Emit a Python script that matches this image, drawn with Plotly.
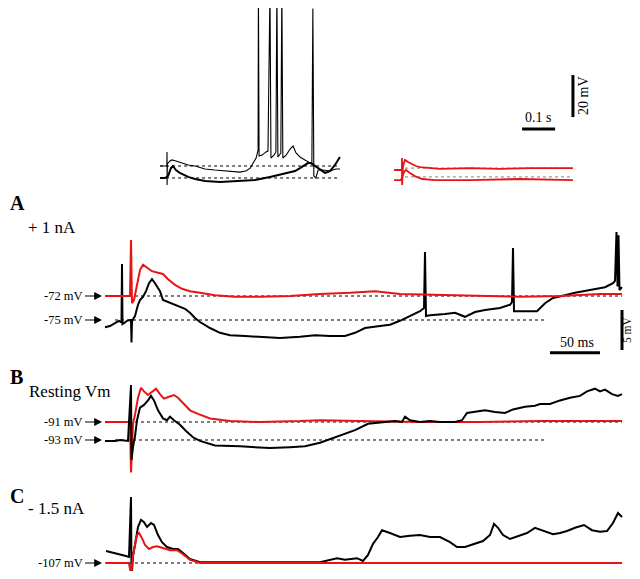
import plotly.graph_objects as go

# The page body has an 8 px default margin, so the figure is placed 8 px
# right/down in the 640x579 window; layout positions below are given in window
# pixels and converted. The figure is sized so the page does not overflow.
OFF = 8
W, H = 640 - 2 * OFF, 579 - 2 * OFF
RED = "rgb(232,20,20)"
FONT = "Liberation Serif"

# ---------------- data (time in ms, membrane potential in mV) ----------------
# Top inset, black traces (stimulus at t = 0)
ins_blk_up_t = [-21, -6, -0.5, 0, 0.3, 1, 9, 15, 27, 39, 64, 85, 115, 145, 191, 221, 239, 252, 261, 270, 276, 277,
                279, 288, 300, 306, 312, 315, 324, 330, 333, 336, 345, 348, 351, 361, 373, 382, 391, 403, 418, 433,
                439, 442, 445, 451, 458, 473, 494, 512, 524]
ins_blk_up_v = [-72, -72, -72, -65.3, -81, -71, -69.6, -69.1, -69.6, -70.1, -71.5, -72, -73.4, -73.9, -74.4, -74.9,
                -74.4, -73, -70.6, -68.2, -64.4, 12, -67.2, -66.8, -65.3, -64.9, 12, -68.2, -66.8, -65.3, 12, -67.7,
                -65.8, 12, -68.2, -66.8, -63.9, -62.5, -65.8, -67.7, -69.1, -70.6, -71, 3, -76.8, -77.7, -73.9,
                -73.9, -74.4, -73.4, -73.4]
ins_blk_lo_t = [-21, -6, 3, 12, 18, 27, 39, 64, 85, 115, 161, 221, 267, 312, 352, 388, 403, 418, 427, 436, 448, 464,
                479, 494, 509, 524]
ins_blk_lo_v = [-77.7, -77.7, -76.8, -73, -72, -73.9, -75.3, -77.2, -78.2, -79.1, -79.6, -79.1, -78.7, -77.2, -75.8,
                -74.4, -73, -71.5, -70.6, -70.6, -72, -73.9, -75.3, -74.4, -71.5, -67.7]
ins_base_t = [-21, 524]
ins_base_v = [-72, -77.7]

# Top inset, red traces
ins_red_up_t = [-24, -3, -0.5, 0, 0.3, 3, 9, 18, 30, 42, 55, 79, 115, 206, 297, 388, 518]
ins_red_up_v = [-73.9, -73.9, -73.9, -68.2, -81, -72, -69.1, -70.1, -71, -72, -72.5, -73, -73.4, -73, -73.4, -73, -73]
ins_red_lo_t = [-24, -3, 6, 12, 24, 39, 61, 100, 206, 358, 518]
ins_red_lo_v = [-78.7, -78.7, -74.9, -73.9, -75.3, -76.8, -78.2, -78.7, -78.7, -78.2, -78.7]
ins_red_base_t = [9, 518]
ins_red_base_v = [-73, -77.2]

# Panel A (+1 nA)
a_blk_t = [-26, -21, -16, -12, -10, -9.5, -9, -8.5, -7, -4, -1, 0, 0.5, 1, 2, 4, 7, 9, 12, 15, 18, 21, 24, 29, 32, 37,
           44, 49, 54, 59, 64, 69, 79, 89, 99, 114, 129, 149, 169, 184, 199, 214, 224, 234, 249, 259, 269, 279, 289,
           293, 294, 295, 299, 314, 324, 334, 344, 354, 369, 379, 381, 382, 383, 394, 406, 414, 422, 434, 444, 459,
           474, 482, 484, 485.5, 486.5, 487.5, 488.5, 491]
a_blk_v = [-75.9, -75.75, -75.4, -75.1, -75.25, -75.2, -68, -75.5, -75.4, -75.1, -75, -75, -77.8, -75.2, -74.9,
           -74.5, -73.1, -72.5, -72.1, -71.4, -70.4, -69.9, -70.4, -71.4, -72.5, -72.75, -73, -73.25, -73.6, -74.1,
           -74.75, -75.25, -76, -76.6, -76.9, -77, -77.1, -77.25, -77.1, -76.9, -77, -77, -76.6, -76, -75.75,
           -75.6, -75.1, -74.5, -73.9, -73.5, -66.5, -74.5, -74.4, -74.25, -74.1, -74.6, -74, -73.75, -73.5, -73.1,
           -72.75, -66, -73.9, -73.9, -73.9, -72.9, -72.25, -71.9, -71.6, -71.25, -70.9, -70.4, -70.1, -64, -70.8,
           -64.4, -71.25, -70.9]
a_red_t = [-26, -1, 0, 1, 3, 5, 7, 9, 12, 16, 21, 27, 32, 37, 44, 51, 59, 69, 84, 104, 129, 159, 189, 219, 244, 269,
           319, 369, 389, 429, 469, 491]
a_red_v = [-72, -72, -65, -72.9, -72.5, -71.25, -69.75, -68.75, -68.1, -68.5, -68.9, -69.1, -69.25, -69.9, -70.6,
           -71.1, -71.4, -71.6, -71.9, -72.1, -72.1, -72, -71.75, -71.6, -71.4, -71.75, -71.9, -72.1, -72.1, -72,
           -71.75, -71.75]
a_base_hi_t, a_base_hi_v = [-26, 491], [-72, -72]
a_base_lo_t, a_base_lo_v = [-16, 416], [-75, -75]

# Panel B (resting Vm)
b_blk_t = [-26, -16, -11, -3, 0, 0.5, 2, 4, 6, 9, 13, 17, 20, 23, 27, 32, 36, 39, 43, 49, 55, 62, 69, 84, 109, 139,
           159, 174, 189, 199, 214, 224, 237, 249, 264, 271, 274, 279, 289, 299, 309, 324, 331, 336, 344, 354, 364,
           374, 382, 394, 404, 409, 419, 429, 439, 449, 456, 464, 469, 474, 481, 487, 491]
b_blk_v = [-93.1, -93.1, -93, -93.1, -86.9, -95.2, -93.8, -92.6, -90.8, -89.4, -89.1, -88.6, -88.1, -88.6, -89.7,
           -90.6, -90.8, -90.4, -90.8, -91.3, -92, -92.7, -93.1, -93.6, -93.7, -93.9, -93.8, -93.7, -93.3, -92.9,
           -92.3, -91.9, -91.2, -91.1, -90.9, -91, -90.4, -90.8, -91, -90.9, -91, -91, -90.8, -90, -89.9, -89.7,
           -89.9, -90, -89.6, -89.3, -89.2, -89, -89, -88.6, -88.3, -88.1, -87.6, -87.3, -87.6, -87.4, -87.9,
           -88.1, -87.9]
b_red_t = [-26, -1, 0, 2, 4, 7, 10, 13, 17, 21, 25, 29, 33, 38, 43, 47, 52, 59, 67, 79, 99, 129, 169, 189, 229, 289,
           349, 409, 469, 491]
b_red_v = [-91, -91, -96.6, -91.2, -90.2, -88.3, -87.2, -87.6, -88, -87.6, -87.3, -87.9, -88.4, -88.2, -88, -88.3,
           -88.9, -89.7, -90.1, -90.6, -90.9, -91, -90.9, -90.8, -90.9, -91, -91, -90.9, -90.9, -90.9]
b_base_hi_t, b_base_hi_v = [-26, 491], [-91, -91]
b_base_lo_t, b_base_lo_v = [-16, 414], [-93, -93]

# Panel C (-1.5 nA)
c_blk_t = [-25, -16, -6, -2, 0, 0.5, 2, 4, 7, 10, 13, 16, 20, 23, 27, 31, 36, 42, 47, 52, 59, 69, 99, 149, 189, 206,
           214, 226, 232, 237, 242, 247, 251, 259, 269, 279, 289, 299, 309, 319, 326, 334, 344, 352, 359, 363, 367,
           372, 379, 387, 396, 404, 412, 422, 429, 436, 444, 453, 461, 469, 476, 482, 487, 491]
c_blk_v = [-105.5, -105.75, -106.1, -106.25, -98.75, -109, -106.1, -104.75, -102.5, -101.6, -101.9, -102.5, -102,
           -102.25, -103.5, -104.4, -105, -105.25, -105.25, -105.75, -106.5, -106.9, -106.9, -106.9, -106.9, -106.4,
           -106.6, -106.4, -106.75, -106, -104.6, -103.75, -102.9, -103.25, -103.75, -103.6, -103.5, -103.75,
           -103.75, -104.4, -105, -105, -104.6, -104.25, -103.5, -102.1, -102.6, -103.5, -104, -103.6, -103.25,
           -102.6, -103, -103.4, -103.25, -103, -102.6, -102.25, -102.9, -103.1, -103, -102, -100.75, -101.25]
c_red_t = [-25, -2, 0, 2, 4, 6, 8, 11, 14, 18, 22, 26, 31, 39, 46, 52, 59, 69, 491]
c_red_v = [-107, -107, -108.5, -106.1, -104.75, -103.5, -103.25, -103.9, -104.75, -105.25, -105, -104.9, -105.1,
           -105.4, -105.4, -105.9, -106.6, -107, -107]
c_base_t, c_base_v = [-26, 491], [-107, -107]

# Scale bars
sb_ins_time_t, sb_ins_time_v = [364, 464], [-54.4, -54.4]     # 0.1 s
sb_ins_volt_t, sb_ins_volt_v = [518, 518], [-48.7, -28.7]     # 20 mV
sb_a_time_t, sb_a_time_v = [419, 469], [-79.1, -79.1]         # 50 ms
sb_a_volt_t, sb_a_volt_v = [491, 491], [-78.75, -73.75]       # 5 mV

# Resting-potential labels
labels_a = ["-72 mV", "-75 mV"]
labels_b = ["-91 mV", "-93 mV"]
labels_c = ["-107 mV"]


# ---------------- layout helpers (window pixels -> figure fractions) ----------------
def xdom(p0, p1):
    return [(p0 - OFF) / W, (p1 - OFF) / W]


def ydom(top, bot):
    return [1 - (bot - OFF) / H, 1 - (top - OFF) / H]


fig = go.Figure()


def line(t, v, ax, color="black", width=1.5, dash=None):
    fig.add_trace(go.Scatter(x=t, y=v, mode="lines", xaxis=ax[0], yaxis=ax[1],
                             line=dict(color=color, width=width, dash=dash), hoverinfo="skip",
                             showlegend=False))


INS_B = ("x", "y")
INS_R = ("x2", "y2")
PA = ("x3", "y3")
PB = ("x4", "y4")
PC = ("x5", "y5")

# inset
line(ins_base_t, [ins_base_v[0]] * 2, INS_B, "black", 1, "dot")
line(ins_base_t, [ins_base_v[1]] * 2, INS_B, "black", 1, "dot")
line(ins_blk_lo_t, ins_blk_lo_v, INS_B, "black", 2)
line(ins_blk_up_t, ins_blk_up_v, INS_B, "black", 1.1)
line(ins_red_base_t, [ins_red_base_v[0]] * 2, INS_R, "gray", 1, "dot")
line(ins_red_base_t, [ins_red_base_v[1]] * 2, INS_R, "gray", 1, "dot")
line(ins_red_up_t, ins_red_up_v, INS_R, RED, 1.8)
line(ins_red_lo_t, ins_red_lo_v, INS_R, RED, 1.8)
line(sb_ins_time_t, sb_ins_time_v, INS_R, "black", 3)
line(sb_ins_volt_t, sb_ins_volt_v, INS_R, "black", 3)

# panel A
line(a_base_hi_t, a_base_hi_v, PA, "black", 1, "dot")
line(a_base_lo_t, a_base_lo_v, PA, "black", 1, "dot")
line(a_blk_t, a_blk_v, PA, "black", 2)
line(a_red_t, a_red_v, PA, RED, 2)
line(sb_a_time_t, sb_a_time_v, PA, "black", 3)
line(sb_a_volt_t, sb_a_volt_v, PA, "black", 3)

# panel B
line(b_base_hi_t, b_base_hi_v, PB, "black", 1, "dot")
line(b_base_lo_t, b_base_lo_v, PB, "black", 1, "dot")
line(b_red_t, b_red_v, PB, RED, 2)
line(b_blk_t, b_blk_v, PB, "black", 2)

# panel C
line(c_base_t, c_base_v, PC, "black", 1, "dot")
line(c_blk_t, c_blk_v, PC, "black", 2)
line(c_red_t, c_red_v, PC, RED, 2)

# inset y range: window y 8..190 (top clipped by page margin)
ins_y_top = -72 + (166 - 8) / 2.1
ins_y_bot = -72 - (190 - 166) / 2.1
# panel C bottom: window y 571 (page margin below)
c_y_bot = -107 - (571 - 563) / 8

hidden = dict(visible=False, fixedrange=True)
fig.update_layout(
    width=W, height=H, margin=dict(l=0, r=0, t=0, b=0),
    paper_bgcolor="white", plot_bgcolor="rgba(0,0,0,0)",
    xaxis=dict(domain=xdom(155, 345), range=[-36.4, 539.4], **hidden),
    yaxis=dict(domain=ydom(8, 190), range=[ins_y_bot, ins_y_top], anchor="x", **hidden),
    xaxis2=dict(domain=xdom(390, 580), range=[-36.4, 539.4], anchor="y2", **hidden),
    yaxis2=dict(domain=ydom(8, 190), range=[ins_y_bot, ins_y_top], anchor="x2", **hidden),
    xaxis3=dict(domain=xdom(95, 632), range=[-36, 501], anchor="y3", **hidden),
    yaxis3=dict(domain=ydom(225, 368), range=[-81, -63.125], anchor="x3", **hidden),
    xaxis4=dict(domain=xdom(95, 632), range=[-36, 501], anchor="y4", **hidden),
    yaxis4=dict(domain=ydom(370, 482), range=[-97.67, -85.22], anchor="x4", **hidden),
    xaxis5=dict(domain=xdom(95, 632), range=[-36, 501], anchor="y5", **hidden),
    yaxis5=dict(domain=ydom(484, 571), range=[c_y_bot, -97.125], anchor="x5", **hidden),
)

ann = []


def ptext(px, py, text, size, bold=False, xanchor="left", angle=0):
    ann.append(dict(x=max(px - OFF, 0) / W, y=1 - (py - OFF) / H, xref="paper", yref="paper",
                    text=f"<b>{text}</b>" if bold else text,
                    showarrow=False, xanchor=xanchor, yanchor="middle", textangle=angle,
                    font=dict(family=FONT, size=size, color="black")))


ptext(2, 203, "A", 20, bold=True)
ptext(26, 228, "+ 1 nA", 17)
ptext(2, 377, "B", 20, bold=True)
ptext(27, 391, "Resting Vm", 17)
ptext(2, 496, "C", 20, bold=True)
ptext(26, 508, "- 1.5 nA", 17)
ptext(538, 118, "0.1 s", 14, xanchor="center")
ptext(584, 96, "20 mV", 14, xanchor="center", angle=-90)
ptext(577, 342, "50 ms", 14, xanchor="center")
ptext(627, 330, "5 mV", 11.5, xanchor="center", angle=-90)


def arrow_label(text, v, ax):
    ann.append(dict(x=-29, y=v, xref=ax[0], yref=ax[1], text=text, showarrow=True, ax=-17, ay=0,
                    xanchor="right", arrowhead=2, arrowsize=1.3, arrowwidth=1.2, arrowcolor="black", standoff=0,
                    font=dict(family=FONT, size=12.5, color="black")))


arrow_label(labels_a[0], a_base_hi_v[0], PA)
arrow_label(labels_a[1], a_base_lo_v[0], PA)
arrow_label(labels_b[0], b_base_hi_v[0], PB)
arrow_label(labels_b[1], b_base_lo_v[0], PB)
arrow_label(labels_c[0], c_base_v[0], PC)

fig.update_layout(annotations=ann)
fig.write_html("out.html")
